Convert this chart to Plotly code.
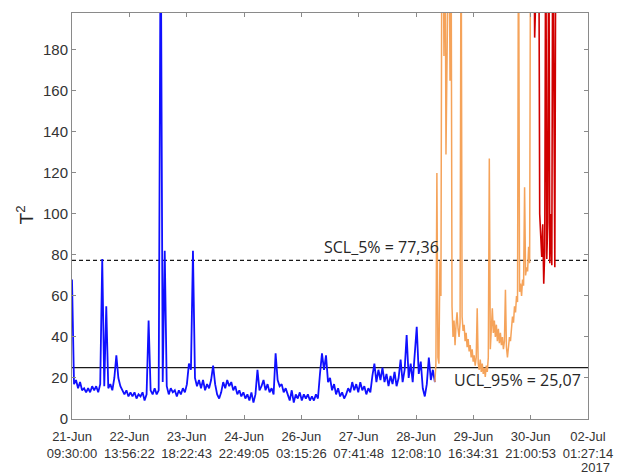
import pandas as pd
import plotly.graph_objects as go

# ---- data ----
start_time = "2017-06-21 09:30:00"
end_time = "2017-07-02 01:27:14"

tick_times = ["2017-06-21 09:30:00", "2017-06-22 13:56:22", "2017-06-23 18:22:43",
              "2017-06-24 22:49:05", "2017-06-26 03:15:26", "2017-06-27 07:41:48",
              "2017-06-28 12:08:10", "2017-06-29 16:34:31", "2017-06-30 21:00:53",
              "2017-07-02 01:27:14"]
tick_labels = ["21-Jun<br>09:30:00", "22-Jun<br>13:56:22", "23-Jun<br>18:22:43",
               "24-Jun<br>22:49:05", "26-Jun<br>03:15:26", "27-Jun<br>07:41:48",
               "28-Jun<br>12:08:10", "29-Jun<br>16:34:31", "30-Jun<br>21:00:53",
               "02-Jul<br>01:27:14"]
y_ticks = [0, 20, 40, 60, 80, 100, 120, 140, 160, 180]

# in-control period, hourly samples
blue_values = [68, 17, 19, 15, 18, 14, 15, 13, 15, 13,
               16, 14, 16, 13, 17, 78, 16, 55, 15, 17,
               14, 20, 31, 20, 16, 14, 12, 14, 11, 13,
               11, 13, 10, 12, 11, 13, 9, 12, 48, 14,
               12, 15, 12, 14, 250, 18, 82, 16, 12, 15,
               13, 14, 11, 14, 12, 15, 13, 17, 27, 24,
               82, 20, 16, 19, 15, 19, 14, 17, 15, 19,
               26, 17, 12, 10, 13, 18, 15, 19, 16, 18,
               14, 16, 12, 14, 11, 13, 10, 12, 9, 13,
               8, 12, 24, 14, 16, 19, 14, 17, 13, 15,
               12, 32, 19, 16, 17, 13, 15, 12, 9, 14,
               8, 12, 10, 13, 9, 12, 10, 12, 9, 11,
               9, 12, 10, 22, 32, 24, 31, 18, 20, 14,
               17, 12, 15, 11, 13, 10, 12, 15, 13, 18,
               14, 17, 13, 18, 14, 16, 12, 15, 13, 21,
               27, 18, 24, 19, 25, 18, 22, 16, 21, 17,
               23, 16, 20, 29, 18, 24, 41, 20, 27, 18,
               30, 45, 22, 28, 15, 11, 17, 30, 19, 24,
               18]
# warning period, half-hourly samples (starting 180 h after start)
orange_values = [18, 27, 120, 30, 27, 77, 60, 260, 260, 177,
                 260, 129, 260, 260, 260, 165, 260, 55, 40, 48,
                 36, 46, 52, 44, 40, 47, 260, 50, 43, 46,
                 38, 42, 35, 39, 33, 36, 30, 34, 28, 31,
                 26, 30, 54, 27, 24, 29, 23, 27, 22, 25,
                 20.5, 26, 23, 30, 127, 34, 45, 54, 42, 48,
                 40, 46, 38, 44, 37, 42, 36, 40, 34, 38,
                 63, 35, 30, 36, 40, 38, 45, 50, 47, 55,
                 52, 60, 57, 260, 62, 66, 60, 68, 65, 113,
                 70, 74, 72, 84, 76, 260]
# alarm period, half-hourly samples (starting 227.5 h after start)
red_values = [260, 260, 260, 260, 186, 260, 260, 260, 260, 100,
              88, 79, 95, 66, 82, 260, 78, 96, 260, 76,
              100, 75, 260, 139, 74, 260]

scl_value = 77.36
ucl_value = 25.07

# ---- time bases ----
t0 = pd.Timestamp(start_time)
blue_t = pd.date_range(t0, periods=len(blue_values), freq="1h")
orange_t = pd.date_range(t0 + pd.Timedelta(hours=180), periods=len(orange_values), freq="30min")
red_t = pd.date_range(t0 + pd.Timedelta(hours=227.5), periods=len(red_values), freq="30min")

fig = go.Figure()
fig.add_trace(go.Scatter(x=[start_time, end_time], y=[scl_value, scl_value], mode="lines",
                         line=dict(color="#1a1a1a", width=1.1, dash="4px,3px"), hoverinfo="skip"))
fig.add_trace(go.Scatter(x=[start_time, end_time], y=[ucl_value, ucl_value], mode="lines",
                         line=dict(color="#1a1a1a", width=1.1), hoverinfo="skip"))
fig.add_trace(go.Scatter(x=blue_t, y=blue_values, mode="lines",
                         line=dict(color="#1010ff", width=1.8)))
fig.add_trace(go.Scatter(x=orange_t, y=orange_values, mode="lines",
                         line=dict(color="#f5a35a", width=1.5)))
fig.add_trace(go.Scatter(x=red_t, y=red_values, mode="lines",
                         line=dict(color="#d00000", width=1.6)))

axis_common = dict(showline=True, linecolor="#8a8a8a", linewidth=1, mirror="ticks",
                   ticks="inside", ticklen=4, tickcolor="#8a8a8a", showgrid=False,
                   zeroline=False)

fig.update_xaxes(range=[start_time, end_time], tickmode="array", tickvals=tick_times,
                 ticktext=tick_labels, ticklabelstandoff=5,
                 tickfont=dict(family="Liberation Sans", size=13, color="#333333"),
                 **axis_common)
fig.update_yaxes(range=[0, 198], tickmode="array", tickvals=y_ticks,
                 tickfont=dict(family="Liberation Sans", size=15, color="#333333"),
                 **axis_common)

fig.add_annotation(text="SCL_5% = 77,36", xref="paper", yref="y", x=0.4846, y=84,
                   xanchor="left", yanchor="middle", showarrow=False,
                   font=dict(family="Open Sans", size=16, color="#262626"))
fig.add_annotation(text="UCL_95% = 25,07", xref="paper", yref="y", x=0.7355, y=19,
                   xanchor="left", yanchor="middle", showarrow=False,
                   font=dict(family="Open Sans", size=16, color="#262626"))
fig.add_annotation(text="T<sup>2</sup>", xref="paper", yref="paper", x=-0.0907, y=0.502,
                   xanchor="center", yanchor="middle", textangle=-90, showarrow=False,
                   font=dict(family="Liberation Sans", size=19, color="#262626"))
fig.add_annotation(text="2017", xref="paper", yref="paper", x=1.0155, y=-0.119,
                   xanchor="center", yanchor="middle", showarrow=False,
                   font=dict(family="Liberation Sans", size=13, color="#333333"))

fig.update_layout(width=625, height=476, margin=dict(l=72, r=35, t=12, b=56.5),
                  paper_bgcolor="white", plot_bgcolor="white", showlegend=False)

fig.write_html("out.html")
